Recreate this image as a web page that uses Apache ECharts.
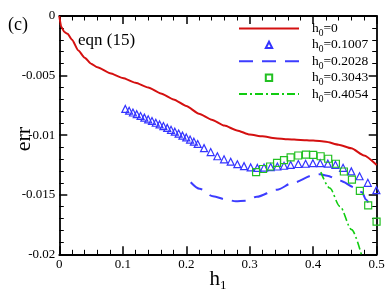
<!DOCTYPE html>
<html><head><meta charset="utf-8">
<script src="https://cdn.jsdelivr.net/npm/echarts@6/dist/echarts.min.js"></script>
<style>html,body{margin:0;padding:0;background:#fff}#c{width:390px;height:294px}</style>
</head><body><div id="c"></div>
<script>
const FONT = '"Liberation Serif","Times New Roman",serif';

// ---- axes ----
const xMin = 0, xMax = 0.5, xStep = 0.1;
const yMin = -0.02, yMax = 0, yStep = 0.005;

// ---- legend labels (h0 values) ----
const h0Labels = ['0', '0.1007', '0.2028', '0.3043', '0.4054'];

// ---- h0 = 0 (red solid) ----
const redX = [0, 0.003, 0.008, 0.013, 0.02, 0.03, 0.04, 0.05, 0.06, 0.08, 0.10, 0.12, 0.14, 0.16, 0.18, 0.20, 0.22, 0.24, 0.26, 0.28, 0.30, 0.32, 0.34, 0.36, 0.38, 0.40, 0.42, 0.44, 0.46, 0.48, 0.50];
const redY = [0, -0.0009, -0.00135, -0.0015, -0.002, -0.0029, -0.0035, -0.0040, -0.0043, -0.0048, -0.0052, -0.0056, -0.0060, -0.0065, -0.0070, -0.00755, -0.0082, -0.0087, -0.0092, -0.0096, -0.00995, -0.0101, -0.01025, -0.01035, -0.0104, -0.01045, -0.01055, -0.0108, -0.0111, -0.0117, -0.0125];

// ---- h0 = 0.1007 (blue triangles) ----
const triX = [0.104, 0.110, 0.116, 0.122, 0.128, 0.134, 0.140, 0.146, 0.152, 0.158, 0.164, 0.170, 0.176, 0.182, 0.188, 0.194, 0.200, 0.206, 0.212, 0.218,
  0.228, 0.2385, 0.249, 0.2595, 0.270, 0.2805, 0.291, 0.3015, 0.312, 0.3225, 0.333, 0.3435, 0.354, 0.3645, 0.3765, 0.388, 0.3995, 0.411, 0.423, 0.435, 0.447, 0.460, 0.473, 0.486, 0.4995];
const triY = [-0.0078, -0.00795, -0.0081, -0.00824, -0.00839, -0.00853, -0.00867, -0.00881, -0.00896, -0.0091, -0.00924, -0.00939, -0.00955, -0.00971, -0.00987, -0.01004, -0.01019, -0.01037, -0.01055, -0.01074,
  -0.01109, -0.01142, -0.01177, -0.01203, -0.01223, -0.01244, -0.0126, -0.01271, -0.01275, -0.01272, -0.01268, -0.01263, -0.01257, -0.0125, -0.01242, -0.0124, -0.01235, -0.01235, -0.01239, -0.01249, -0.01274, -0.01304, -0.01345, -0.014, -0.01462];

// ---- h0 = 0.2028 (blue dashed) ----
const dashX = [0.207, 0.221, 0.242, 0.264, 0.278, 0.293, 0.311, 0.343, 0.368, 0.400, 0.411, 0.422, 0.442, 0.466, 0.477, 0.483, 0.489];
const dashY = [-0.01395, -0.0145, -0.01513, -0.01542, -0.01555, -0.0155, -0.01517, -0.01458, -0.014, -0.01337, -0.01328, -0.0134, -0.01383, -0.0144, -0.0148, -0.0154, -0.0159];

// ---- h0 = 0.3043 (green squares) ----
const sqX = [0.310, 0.321, 0.332, 0.343, 0.354, 0.3644, 0.3764, 0.3885, 0.400, 0.4117, 0.4236, 0.4357, 0.4483, 0.461, 0.4735, 0.4866, 0.4998];
const sqY = [-0.01311, -0.01284, -0.01263, -0.01232, -0.01209, -0.01187, -0.01171, -0.01163, -0.01165, -0.01177, -0.01198, -0.0124, -0.01305, -0.01374, -0.01467, -0.0159, -0.01726];

// ---- h0 = 0.4054 (green dash-dot) ----
const ddX = [0.412, 0.426, 0.442, 0.4605, 0.4758];
const ddY = [-0.0131, -0.01444, -0.01598, -0.01793, -0.0200];

const zip = (xs, ys) => xs.map((x, i) => [x, ys[i]]);
const names = h0Labels.map(v => 'h0=' + v);

const RED = '#d41010', BLUE = '#3434ff', BLUED = '#3c3cff', GREEN = '#22c022', GREEND = '#10cc10';

const tickCommon = {
  axisLine: { show: true, onZero: false, lineStyle: { color: '#000', width: 1.8 } },
  axisTick: { show: true, inside: true, length: 8, lineStyle: { color: '#000', width: 1.5 } },
  minorTick: { show: true, splitNumber: 5, length: 4.5, lineStyle: { color: '#000', width: 1 } },
  splitLine: { show: false }, minorSplitLine: { show: false }
};

const chart = echarts.init(document.getElementById('c'), null, { renderer: 'canvas' });
chart.setOption({
  animation: false,
  backgroundColor: '#fff',
  grid: { left: 59.3, right: 13.3, top: 16, bottom: 39.7, containLabel: false, outerBoundsMode: 'none' },
  xAxis: [
    Object.assign({ type: 'value', min: xMin, max: xMax, interval: xStep, position: 'bottom',
      axisLabel: { fontFamily: FONT, fontSize: 13, color: '#000', margin: 4 },
      name: '{m|h}{s|1}', nameLocation: 'middle', nameGap: 12, nameMoveOverlap: false,
      nameTextStyle: { rich: {
        m: { fontFamily: FONT, fontSize: 21, color: '#000', lineHeight: 26 },
        s: { fontFamily: FONT, fontSize: 13, color: '#000', lineHeight: 13, verticalAlign: 'bottom' } } }
    }, tickCommon),
    Object.assign({ type: 'value', min: xMin, max: xMax, interval: xStep, position: 'top', axisLabel: { show: false } }, tickCommon)
  ],
  yAxis: [
    Object.assign({ type: 'value', min: yMin, max: yMax, interval: yStep, position: 'left',
      axisLabel: { fontFamily: FONT, fontSize: 13, color: '#000', margin: 4 },
      name: 'err', nameLocation: 'middle', nameGap: 24, nameMoveOverlap: false,
      nameTextStyle: { fontFamily: FONT, fontSize: 22, color: '#000', padding: [0, 8, 0, 0] }
    }, tickCommon),
    Object.assign({ type: 'value', min: yMin, max: yMax, interval: yStep, position: 'right', axisLabel: { show: false } }, tickCommon)
  ],
  legend: {
    orient: 'vertical', left: 233, top: 16.5, itemWidth: 60, itemHeight: 8, itemGap: -0.6,
    data: names.map((n, i) => (i === 0 || i === 2 || i === 4) ? { name: n, itemStyle: { opacity: 0 } } : { name: n }),
    formatter: n => '{m|h}{s|0}{m|' + n.slice(2) + '}',
    textStyle: { padding: [0, 0, 0, 8], rich: {
      m: { fontFamily: FONT, fontSize: 13.5, color: '#000', lineHeight: 20 },
      s: { fontFamily: FONT, fontSize: 9.5, color: '#000', lineHeight: 9.5, verticalAlign: 'bottom' } } },
    selectedMode: false
  },
  graphic: [
    { type: 'text', left: 8, top: 16, style: { text: '(c)', fontFamily: FONT, fontSize: 18, fill: '#000' } },
    { type: 'text', left: 78, top: 32, style: { text: 'eqn (15)', fontFamily: FONT, fontSize: 17, fill: '#000' } }
  ],
  series: [
    { name: names[0], type: 'line', data: zip(redX, redY), symbol: 'none', smooth: 0.2, smoothMonotone: 'x',
      lineStyle: { color: RED, width: 2 }, itemStyle: { color: RED } },
    { name: names[1], type: 'line', data: zip(triX, triY), symbol: 'triangle', symbolSize: 7, showAllSymbol: true,
      lineStyle: { width: 0, opacity: 0 }, itemStyle: { color: 'transparent', borderColor: BLUE, borderWidth: 1.2 } },
    { name: names[2], type: 'line', data: zip(dashX, dashY), symbol: 'none', smooth: 0.3, smoothMonotone: 'x',
      lineStyle: { color: BLUED, width: 2, type: [14, 9] }, itemStyle: { color: BLUED } },
    { name: names[3], type: 'line', data: zip(sqX, sqY), symbol: 'rect', symbolSize: 7, showAllSymbol: true,
      lineStyle: { width: 0, opacity: 0 }, itemStyle: { color: 'transparent', borderColor: GREEN, borderWidth: 1.2 } },
    { name: names[4], type: 'line', data: zip(ddX, ddY), symbol: 'none', smooth: 0.3, smoothMonotone: 'x',
      lineStyle: { color: GREEND, width: 1.6, type: [8, 3, 2, 3] }, itemStyle: { color: GREEND } }
  ]
});
</script></body></html>
